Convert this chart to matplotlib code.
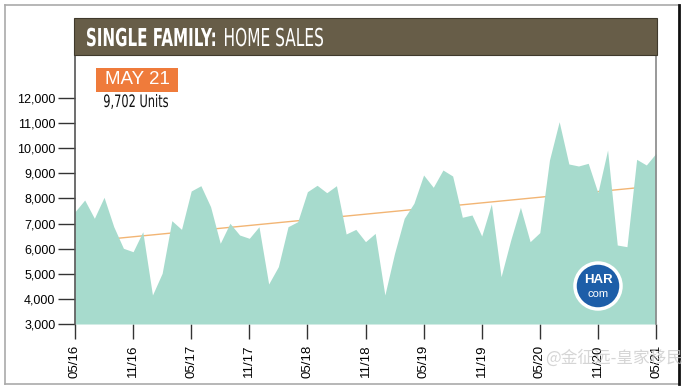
import matplotlib
matplotlib.use("Agg")
import matplotlib.pyplot as plt
from matplotlib.patches import Rectangle, Ellipse, PathPatch
from matplotlib.lines import Line2D
from matplotlib.textpath import TextPath
from matplotlib.font_manager import FontProperties
from matplotlib.transforms import Affine2D

# monthly single family home sales, 05/16 .. 05/21
sales = [7474, 7940, 7211, 8048, 6880, 6016, 5880, 6677, 4155, 5020,
         7116, 6770, 8299, 8510, 7675, 6215, 7012, 6546, 6414, 6876,
         4594, 5285, 6876, 7076, 8271, 8526, 8231, 8510, 6586, 6770,
         6280, 6610, 4155, 5815, 7211, 7808, 8936, 8446, 9135, 8896,
         7251, 7343, 6506, 7781, 4886, 6347, 7648, 6280, 6640, 9534,
         11060, 9375, 9295, 9402, 8231, 9932, 6147, 6080, 9561, 9335,
         9800]
months = list(range(len(sales)))
tick_pos = [0, 6, 12, 18, 24, 30, 36, 42, 48, 54, 60]
tick_labels = ['05/16', '11/16', '05/17', '11/17', '05/18', '11/18',
               '05/19', '11/19', '05/20', '11/20', '05/21']
y_ticks = [3000, 4000, 5000, 6000, 7000, 8000, 9000, 10000, 11000, 12000]
trend_x = [0, 60]
trend_y = [6250, 8500]

W, H = 687, 391
fig = plt.figure(figsize=(W / 100, H / 100), dpi=100)
fig.patch.set_facecolor('white')


def condensed_text(s, x0, x1, baseline, cap, color, weight='normal'):
    # draw text squeezed into [x0, x1] pixels, cap height `cap` pixels
    prop = FontProperties(family='DejaVu Sans', weight=weight)
    tp = TextPath((0, 0), s, size=100, prop=prop)
    ext = tp.get_extents()
    sx = (x1 - x0) / ext.width
    sy = cap / 73.0
    tr = Affine2D().translate(-ext.x0, 0).scale(sx, sy).translate(x0, H - baseline)
    fig.patches.append(PathPatch(tp, transform=tr, facecolor=color,
                                 edgecolor='none', zorder=5))


ax = fig.add_axes([75 / W, 1 - 324 / H, (656 - 75) / W, (324 - 55) / H])
ax.plot(trend_x, trend_y, color='#f2b574', linewidth=1.0, zorder=1)
ax.fill_between(months, 3000, sales, color='#a7dbcd', linewidth=0, zorder=2)
ax.set_xlim(0, 60)
ax.set_ylim(3000, 13717)

ax.set_yticks(y_ticks)
ax.set_yticklabels([f'{v:,}' for v in y_ticks], fontsize=9,
                   family='Liberation Sans')
ax.set_xticks(tick_pos)
ax.set_xticklabels(tick_labels, rotation=90, fontsize=9.5,
                   family='Liberation Sans')
ax.tick_params(axis='y', direction='out', length=12, width=1.0,
               color='#333333', pad=2)
ax.tick_params(axis='x', direction='out', length=11, width=1.0,
               color='#333333', pad=4)
for s in ['top', 'bottom']:
    ax.spines[s].set_visible(False)
for s in ['left', 'right']:
    ax.spines[s].set_color('#888888')
    ax.spines[s].set_linewidth(1.2)
ax.spines['left'].set_color('#555555')

# header band
fig.patches.append(Rectangle((74 / W, 1 - 55 / H), (657 - 74) / W, 37 / H,
                             transform=fig.transFigure, facecolor='#675d48',
                             edgecolor='#3f392c', linewidth=0.8))
condensed_text('SINGLE FAMILY:', 87, 215, 46, 18, 'white', weight='bold')
condensed_text('HOME SALES', 225, 323, 46, 18, 'white')

# current month badge
fig.patches.append(Rectangle((96 / W, 1 - 92 / H), 82 / W, 24 / H,
                             transform=fig.transFigure, facecolor='#ef7b3b',
                             edgecolor='none'))
fig.text(137 / W, 1 - 80 / H, 'MAY 21', color='white', fontsize=13.5,
         family='Liberation Sans', ha='center', va='center')
condensed_text('9,702 Units', 104, 168, 107, 12.5, '#111111')

# HAR.com logo
fig.patches.append(Ellipse((598 / W, 1 - 286 / H), 46 / W, 46 / H,
                           transform=fig.transFigure, facecolor='#1d5ea8',
                           edgecolor='white', linewidth=2.5, zorder=5))
fig.text(598 / W, 1 - 280 / H, 'HAR', color='white', fontsize=9.5,
         fontweight='bold', family='Liberation Sans', ha='center',
         va='center', zorder=6)
fig.text(598 / W, 1 - 294 / H, 'com', color='white', fontsize=8,
         family='Liberation Sans', ha='center', va='center', zorder=6)

# outer frame
fig.lines.append(Line2D([5 / W, 679 / W], [1 - 5 / H, 1 - 5 / H],
                        transform=fig.transFigure, color='#aaaaaa', lw=1.2))
fig.lines.append(Line2D([5 / W, 5 / W], [1 - 5 / H, 1 - 384 / H],
                        transform=fig.transFigure, color='#aaaaaa', lw=1.2))
fig.lines.append(Line2D([5 / W, 679 / W], [1 - 384 / H, 1 - 384 / H],
                        transform=fig.transFigure, color='#aaaaaa', lw=1.2))
fig.lines.append(Line2D([679 / W, 679 / W], [1 - 5 / H, 1 - 384 / H],
                        transform=fig.transFigure, color='#111111', lw=2.0))

# watermark
fig.text(614 / W, 1 - 358 / H, '@金征远-皇家移民', color='#c8c8c8',
         alpha=0.75, fontsize=12, family=['Noto Sans CJK SC', 'DejaVu Sans'],
         ha='center', va='center', zorder=10)

fig.savefig('out.png', dpi=100)
